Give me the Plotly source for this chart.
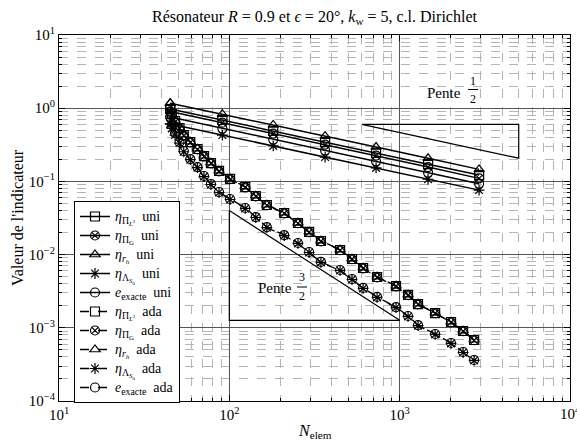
import plotly.graph_objects as go

# ---------------- data ----------------
N_uni = [45, 91, 181, 365, 727, 1468, 2926]
piL2_uni = [0.975, 0.69, 0.49, 0.345, 0.245, 0.172, 0.122]
piG_uni = [0.90, 0.635, 0.45, 0.318, 0.225, 0.157, 0.110]
rh_uni = [1.17, 0.83, 0.59, 0.415, 0.295, 0.207, 0.146]
lam_uni = [0.61, 0.43, 0.305, 0.215, 0.153, 0.107, 0.076]
ex_uni = [0.758, 0.53, 0.375, 0.265, 0.188, 0.132, 0.093]

N_ada = [45, 46, 48, 51, 54, 59, 65, 71, 78, 87, 101, 124, 143, 166, 210, 253, 294,
         345, 447, 525, 610, 737, 952, 1120, 1282, 1615, 2003, 2357, 2735]
piL2_ada = [0.975, 0.833, 0.668, 0.536, 0.430, 0.345, 0.277, 0.222, 0.178, 0.139,
            0.108, 0.0839, 0.0632, 0.0476, 0.0370, 0.0270, 0.0204, 0.01534, 0.01156,
            0.00871, 0.00656, 0.00494, 0.00372, 0.00281, 0.00211, 0.00159, 0.00120,
            0.000904, 0.000681]
piG_ada = [0.90, 0.80, 0.650, 0.525, 0.422, 0.340, 0.273, 0.219, 0.176, 0.137,
           0.107, 0.0830, 0.0626, 0.0472, 0.0366, 0.0268, 0.0202, 0.01520, 0.01146,
           0.00864, 0.00650, 0.00490, 0.00369, 0.00279, 0.00209, 0.00158, 0.00119,
           0.000897, 0.000676]
rh_ada = [1.17, 0.90, 0.69, 0.545, 0.436, 0.349, 0.280, 0.224, 0.180, 0.140,
          0.109, 0.0846, 0.0638, 0.0480, 0.0373, 0.0272, 0.0206, 0.01548, 0.01166,
          0.00879, 0.00662, 0.00498, 0.00375, 0.00284, 0.00213, 0.00160, 0.00121,
          0.000912, 0.000687]
lam_ada = [0.61, 0.53, 0.43, 0.334, 0.254, 0.198, 0.154, 0.1165, 0.0907, 0.0705,
           0.0566, 0.0427, 0.0321, 0.0234, 0.0182, 0.0142, 0.01069, 0.00781, 0.00607,
           0.00457, 0.00345, 0.00260, 0.00189, 0.00143, 0.00107, 0.000811, 0.000611,
           0.000460, 0.000358]
ex_ada = [0.758, 0.590, 0.458, 0.345, 0.260, 0.202, 0.157, 0.1185, 0.0922, 0.0716,
          0.0575, 0.0433, 0.0326, 0.0238, 0.0185, 0.0144, 0.01085, 0.00793, 0.00616,
          0.00464, 0.00350, 0.00264, 0.00192, 0.00145, 0.00109, 0.000823, 0.000620,
          0.000467, 0.000363]

# slope triangles
tri_half_x = [600, 5000, 5000, 600]
tri_half_y = [0.6, 0.6, 0.2078, 0.6]
tri_3half_x = [100, 100, 1000, 100]
tri_3half_y = [0.04, 0.001265, 0.001265, 0.04]

x_tickvals = [10, 100, 1000]
x_ticktext = ["10<sup>1</sup>", "10<sup>2</sup>", "10<sup>3</sup>"]
y_tickvals = [10, 1, 0.1, 0.01, 0.001, 0.0001]
y_ticktext = ["10<sup>1</sup>", "10<sup>0</sup>", "10<sup>\u22121</sup>", "10<sup>\u22122</sup>",
              "10<sup>\u22123</sup>", "10<sup>\u22124</sup>"]

labels = [
    "<i>η</i><sub>Π<sub><i>L</i><sup>2</sup></sub></sub>",
    "<i>η</i><sub>Π<sub>G</sub></sub>",
    "<i>η</i><sub><i>r<sub>h</sub></i></sub>",
    "<i>η</i><sub>Λ<sub><i>S</i><sub>0</sub></sub></sub>",
    "<i>e</i><sub>exacte</sub>",
]
symbols = ["square-open", "circle-x-open", "triangle-up-open", "asterisk-open", "circle-open"]

FONT = "Liberation Serif, DejaVu Serif, Times New Roman, serif"
fig = go.Figure()


def leg(t):
    return '<span style="font-size:14px">' + t + "</span>"


uni = [piL2_uni, piG_uni, rh_uni, lam_uni, ex_uni]
ada = [piL2_ada, piG_ada, rh_ada, lam_ada, ex_ada]
for lab, sym, ys in zip(labels, symbols, uni):
    fig.add_trace(go.Scatter(x=N_uni, y=ys, mode="lines+markers", name=leg(lab + "  uni"),
                             line=dict(color="black", width=1.5),
                             marker=dict(symbol=sym, size=9, color="black",
                                         line=dict(color="black", width=1.2))))
for lab, sym, ys in zip(labels, symbols, ada):
    fig.add_trace(go.Scatter(x=N_ada, y=ys, mode="lines+markers", name=leg(lab + "  ada"),
                             line=dict(color="black", width=1.3, dash="dash"),
                             marker=dict(symbol=sym, size=9, color="black",
                                         line=dict(color="black", width=1.2))))

for tx, ty in [(tri_half_x, tri_half_y), (tri_3half_x, tri_3half_y)]:
    fig.add_trace(go.Scatter(x=tx, y=ty, mode="lines", showlegend=False,
                             line=dict(color="black", width=1.2), hoverinfo="skip"))

minor_x = [m * 10 ** k for k in range(1, 4) for m in range(2, 10)]
minor_y = [m * 10.0 ** k for k in range(-4, 1) for m in range(2, 10)]

axis_common = dict(type="log", showline=True, linecolor="black", linewidth=1,
                   mirror="allticks", ticks="inside", ticklen=6, tickcolor="black",
                   showgrid=True, gridcolor="#555555", gridwidth=1, zeroline=False,
                   tickfont=dict(family=FONT, size=15, color="black"))
fig.update_xaxes(**axis_common, range=[1, 4], tickmode="array", tickvals=x_tickvals,
                 ticktext=x_ticktext,
                 minor=dict(tickmode="array", tickvals=minor_x, ticks="inside", ticklen=3,
                            tickcolor="black", showgrid=True, gridcolor="#b5b5b5",
                            griddash="dash", gridwidth=1))
fig.update_yaxes(**axis_common, range=[-4, 1], tickmode="array", tickvals=y_tickvals,
                 ticktext=y_ticktext,
                 minor=dict(tickmode="array", tickvals=minor_y, ticks="inside", ticklen=3,
                            tickcolor="black", showgrid=True, gridcolor="#b5b5b5",
                            griddash="dash", gridwidth=1))

L, R, T, B = 59, 7, 35, 41
W, H = 577, 442
PW, PH = W - L - R, H - T - B


def px(x):
    return (x - L) / PW


def py(y):
    return 1 - (y - T) / PH


ann = []
txt = dict(family=FONT, size=15, color="black")
small = dict(family=FONT, size=12, color="black")
ann.append(dict(text="Pente", x=px(444), y=py(93), xref="paper", yref="paper",
                showarrow=False, font=txt, xanchor="center", yanchor="middle"))
ann.append(dict(text="1", x=px(473), y=py(81), xref="paper", yref="paper",
                showarrow=False, font=small, xanchor="center", yanchor="middle"))
ann.append(dict(text="2", x=px(473), y=py(99), xref="paper", yref="paper",
                showarrow=False, font=small, xanchor="center", yanchor="middle"))
ann.append(dict(text="Pente", x=px(275), y=py(288), xref="paper", yref="paper",
                showarrow=False, font=txt, xanchor="center", yanchor="middle"))
ann.append(dict(text="3", x=px(302), y=py(277), xref="paper", yref="paper",
                showarrow=False, font=small, xanchor="center", yanchor="middle"))
ann.append(dict(text="2", x=px(302), y=py(296), xref="paper", yref="paper",
                showarrow=False, font=small, xanchor="center", yanchor="middle"))
ann.append(dict(text="Valeur de l'indicateur", x=px(17), y=0.5, xref="paper", yref="paper",
                showarrow=False, textangle=-90, font=dict(family=FONT, size=16, color="black"),
                xanchor="center", yanchor="middle"))
ann.append(dict(text="<i>N</i><sub>elem</sub>", x=0.5, y=py(431), xref="paper", yref="paper",
                showarrow=False, font=dict(family=FONT, size=16, color="black"),
                xanchor="center", yanchor="middle"))
# last x tick label, partly outside the window as in the reference
ann.append(dict(text="10<sup>4</sup>", x=1.0, y=py(413), xref="paper", yref="paper",
                showarrow=False, font=dict(family=FONT, size=15, color="black"),
                xanchor="center", yanchor="middle"))

shapes = [
    dict(type="line", xref="paper", yref="paper", x0=px(468), x1=px(478), y0=py(89.5), y1=py(89.5),
         line=dict(color="black", width=1)),
    dict(type="line", xref="paper", yref="paper", x0=px(297), x1=px(307), y0=py(287), y1=py(287),
         line=dict(color="black", width=1)),
]

fig.update_layout(
    width=W, height=H,
    margin=dict(l=L, r=R, t=T, b=B, pad=0),
    paper_bgcolor="white", plot_bgcolor="white",
    font=dict(family=FONT, size=13, color="black"),
    title=dict(text="Résonateur <i>R</i> = 0.9 et <i>ϵ</i> = 20°, <i>k</i><sub>w</sub> = 5, c.l. Dirichlet",
               x=0.5, xref="paper", xanchor="center", y=(H - 16) / H, yref="container",
               yanchor="middle", font=dict(family=FONT, size=16, color="black")),
    legend=dict(x=px(74), y=py(201), xanchor="left", yanchor="top",
                bordercolor="black", borderwidth=1, bgcolor="white",
                font=dict(family=FONT, size=12, color="black"), tracegroupgap=0,
                itemwidth=30),
    annotations=ann, shapes=shapes,
    showlegend=True,
)

fig.write_html("out.html")
